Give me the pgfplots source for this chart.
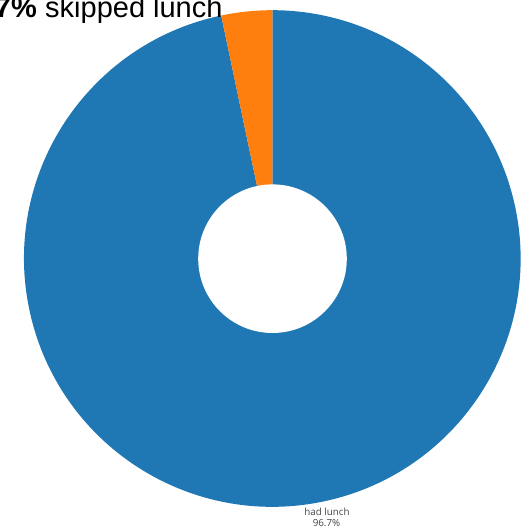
\documentclass[border=0pt]{standalone}
\usepackage{pgfplots}
\pgfplotsset{compat=1.18}
\usepackage{fontspec}
\setmainfont{Liberation Sans}
\newfontfamily\labelfont{Open Sans}
\definecolor{myblue}{HTML}{1F77B4}
\definecolor{myorange}{HTML}{FF7F0E}
\definecolor{labelgray}{HTML}{444444}
\begin{document}
\begin{tikzpicture}
\useasboundingbox (0,0) rectangle (522bp,528bp);
\clip (0,0) rectangle (522bp,528bp);
% data (percent)
\pgfmathsetmacro{\had}{96.7}
\pgfmathsetmacro{\skipped}{3.3}
\pgfmathsetmacro{\angA}{90+3.6*\skipped}
\begin{axis}[
  at={(0,0)}, anchor=south west,
  scale only axis, width=522bp, height=528bp,
  xmin=0, xmax=522, ymin=0, ymax=528,
  hide axis, clip=false,
]
% had lunch
\fill[myblue] (axis cs:272.3,269.5) -- ++(\angA:248.3bp) arc[start angle=\angA, end angle=450, radius=248.3bp] -- cycle;
% skipped lunch
\fill[myorange] (axis cs:272.3,269.5) -- ++(90:248.3bp) arc[start angle=90, end angle=\angA, radius=248.3bp] -- cycle;
% hole
\fill[white] (axis cs:272.5,269.3) circle[radius=74.3bp];
% title
\node[anchor=base east, inner sep=0pt, font=\fontsize{29bp}{32bp}\selectfont\bfseries] at (axis cs:37,510) {96.7\%};
\node[anchor=base west, inner sep=0pt, font=\fontsize{29bp}{32bp}\selectfont] at (axis cs:45,510) {skipped lunch};
% slice label
\node[anchor=base, inner sep=0pt, text=labelgray, font=\labelfont\fontsize{9.8bp}{11bp}\selectfont] at (axis cs:327,13) {had lunch};
\node[anchor=base, inner sep=0pt, text=labelgray, font=\labelfont\fontsize{9.8bp}{11bp}\selectfont] at (axis cs:326.5,2) {96.7\%};
\end{axis}
\end{tikzpicture}
\end{document}
